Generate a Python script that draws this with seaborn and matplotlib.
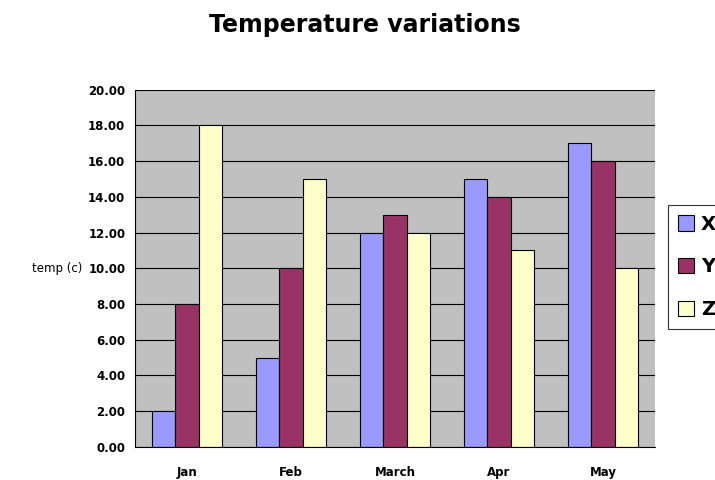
import pandas as pd
import matplotlib.pyplot as plt
import seaborn as sns

# Datos
months = ['Jan', 'Feb', 'March', 'Apr', 'May']
x_vals = [2, 5, 12, 15, 17]
y_vals = [8, 10, 13, 14, 16]
z_vals = [18, 15, 12, 11, 10]

df = pd.DataFrame({
    'month': months * 3,
    'serie': ['X'] * 5 + ['Y'] * 5 + ['Z'] * 5,
    'temp': x_vals + y_vals + z_vals,
})

sns.set_theme(style="white")
plt.rcParams['font.family'] = ['DejaVu Sans']

fig = plt.figure(figsize=(7.15, 4.8), dpi=100)
ax = fig.add_axes([0.189, 0.069, 0.727, 0.744])
ax.set_facecolor('#C0C0C0')

sns.barplot(data=df, x='month', y='temp', hue='serie',
            palette=['#9999FF', '#993366', '#FFFFCC'], saturation=1,
            width=0.68, edgecolor='black', linewidth=0.8, ax=ax)

ax.set_ylim(0, 20)
ax.set_xlim(-0.5, 4.5)
ax.set_yticks(range(0, 21, 2))
ax.set_yticklabels([f"{v:.2f}" for v in range(0, 21, 2)], fontsize=8.5, fontweight='bold')
ax.yaxis.grid(True, color='black', linewidth=0.8)
ax.set_axisbelow(True)
ax.tick_params(axis='y', direction='out', length=5, width=0.8, color='black', labelcolor='black', pad=2)
ax.tick_params(axis='x', which='major', length=0, labelsize=8.5, labelcolor='black', pad=14)
for lbl in ax.get_xticklabels():
    lbl.set_fontweight('bold')
ax.set_xticks([i + 0.5 for i in range(-1, 5)], minor=True)
ax.tick_params(axis='x', which='minor', direction='out', length=5, width=0.8, color='black')

for s in ['top', 'right']:
    ax.spines[s].set_visible(False)
for s in ['left', 'bottom']:
    ax.spines[s].set_color('black')
    ax.spines[s].set_linewidth(0.8)

ax.set_xlabel('')
ax.set_ylabel('temp (c)', rotation=0, fontsize=8.5, color='black', labelpad=4, va='center', ha='right')

ax.get_legend().remove()
handles, labels = ax.get_legend_handles_labels()
leg = fig.legend(handles[:3], labels[:3], loc='upper left', bbox_to_anchor=(0.934, 0.573),
                 borderaxespad=0, frameon=True, fancybox=False, fontsize=14,
                 handlelength=0.85, handleheight=0.85, labelspacing=1.22,
                 borderpad=0.5, handletextpad=0.35)
leg.get_frame().set_edgecolor('black')
leg.get_frame().set_linewidth(0.8)
for t in leg.get_texts():
    t.set_fontweight('bold')
    t.set_color('black')

fig.suptitle('Temperature variations', fontsize=17, fontweight='bold', color='black', x=0.51, y=0.973)

fig.savefig('out.png', dpi=100)
plt.close()
